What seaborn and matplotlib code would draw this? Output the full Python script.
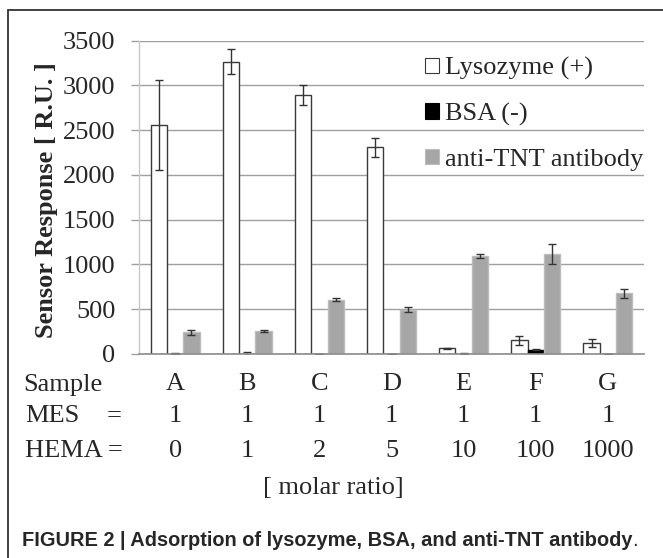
import numpy as np
import pandas as pd
import matplotlib
matplotlib.use("Agg")
import matplotlib.pyplot as plt
import matplotlib.transforms as mtransforms
from matplotlib.patches import Patch, Rectangle
import seaborn as sns

# valores
samples = ["A", "B", "C", "D", "E", "F", "G"]
mes_ratio = ["1", "1", "1", "1", "1", "1", "1"]
hema_ratio = ["0", "1", "2", "5", "10", "100", "1000"]

lysozyme = [2560, 3265, 2895, 2308, 64, 153, 124]
lysozyme_err = [500, 140, 110, 102, 8, 47, 41]
bsa = [5, 5, 2, 2, 5, 48, 2]
bsa_err = [3, 15, 2, 2, 3, 4, 2]
anti_tnt = [243, 254, 607, 497, 1093, 1119, 681]
anti_tnt_err = [27, 12, 14, 24, 22, 108, 50]

series_names = ["Lysozyme (+)", "BSA (-)", "anti-TNT antibody"]
face_colors = ["white", "black", "#a6a6a6"]
edge_colors = ["#3a3a3a", "black", "#bdbdbd"]

SERIF = ["Liberation Serif", "DejaVu Serif"]
SANS = ["Liberation Sans Narrow", "Liberation Sans", "DejaVu Sans"]
FS = 19


def build_frame():
    rows = []
    for name, vals in zip(series_names, [lysozyme, bsa, anti_tnt]):
        for s, v in zip(samples, vals):
            rows.append({"Sample": s, "Protein": name, "Response": v})
    return pd.DataFrame(rows)


def main():
    sns.set_style("white")
    plt.rcParams["font.family"] = SERIF

    df = build_frame()
    W, H = 663, 558
    fig = plt.figure(figsize=(W / 100, H / 100), dpi=100)
    ax = fig.add_axes([139 / W, 1 - 354 / H, (644 - 139) / W, (354 - 40.7) / H])

    sns.barplot(
        data=df, x="Sample", y="Response", hue="Protein",
        order=samples, hue_order=series_names,
        palette=dict(zip(series_names, face_colors)),
        width=0.68, errorbar=None, saturation=1, legend=False, ax=ax,
    )

    # bordas e barras de erro
    errs = [lysozyme_err, bsa_err, anti_tnt_err]
    vals = [lysozyme, bsa, anti_tnt]
    bar_containers = list(ax.containers)
    for k, cont in enumerate(bar_containers):
        for bar in cont:
            bar.set_edgecolor(edge_colors[k])
            bar.set_linewidth(1.0)
            bar.set_zorder(3)
        xs = [b.get_x() + b.get_width() / 2 for b in cont]
        ax.errorbar(xs, vals[k], yerr=errs[k], fmt="none", ecolor="#333333",
                    elinewidth=1.0, capsize=2.8, capthick=1.0, zorder=4)

    ax.set_ylim(0, 3500)
    ax.set_xlim(-0.5, len(samples) - 0.5)
    ax.set_yticks(np.arange(0, 3501, 500))
    ax.yaxis.grid(True, color="#a0a0a0", linewidth=1.0)
    ax.set_axisbelow(True)
    for side in ["top", "right"]:
        ax.spines[side].set_visible(False)
    ax.spines["bottom"].set_color("#8c8c8c")
    ax.spines["bottom"].set_linewidth(1.2)
    ax.spines["bottom"].set_zorder(5)
    ax.spines["left"].set_color("#c8c8c8")
    ax.spines["left"].set_linewidth(1.0)

    ax.tick_params(axis="y", length=6, width=1.0, color="#a0a0a0", pad=11,
                   labelsize=FS, left=True)
    ax.tick_params(axis="x", length=0, pad=14, labelsize=FS)
    for lab in ax.get_yticklabels() + ax.get_xticklabels():
        lab.set_fontfamily(SERIF)

    ax.set_xlabel("")
    ax.set_ylabel("Sensor Response [ R.U. ]", fontsize=FS, fontweight="bold",
                  family=SERIF)
    ax.yaxis.set_label_coords(-0.16, 0.49)

    # legenda
    handles = [Patch(facecolor=f, edgecolor=e, linewidth=0.8)
               for f, e in zip(face_colors, edge_colors)]
    ax.legend(handles, series_names, loc="upper left",
              bbox_to_anchor=(425 / W, 1 - 57 / H), bbox_transform=fig.transFigure,
              frameon=False, handlelength=0.52, handleheight=0.52,
              handletextpad=0.25, labelspacing=0.86, borderpad=0, borderaxespad=0,
              prop={"family": SERIF, "size": FS})

    # linhas de texto abaixo do eixo
    trans = mtransforms.blended_transform_factory(ax.transData, fig.transFigure)
    fy = lambda py: 1 - py / H
    fx = lambda px: px / W
    fig.text(fx(23), fy(391), "Sample", fontsize=FS, va="baseline", ha="left")
    fig.text(fx(25), fy(422), "MES", fontsize=FS, va="baseline", ha="left")
    fig.text(fx(114), fy(422), "=", fontsize=FS, va="baseline", ha="center")
    fig.text(fx(25), fy(457), "HEMA =", fontsize=FS, va="baseline", ha="left")
    for i in range(len(samples)):
        ax.text(i, fy(422), mes_ratio[i], transform=trans, fontsize=FS,
                va="baseline", ha="center")
        ax.text(i, fy(457), hema_ratio[i], transform=trans, fontsize=FS,
                va="baseline", ha="center")
    fig.text(fx(333), fy(494), "[ molar ratio]", fontsize=FS, va="baseline",
             ha="center")

    cap = fig.text(fx(22), fy(546), "FIGURE 2 | Adsorption of lysozyme, BSA, and anti-TNT antibody",
                   fontsize=14.4, fontweight="bold", va="baseline", ha="left",
                   family=SANS)
    fig.canvas.draw()
    bb = cap.get_window_extent()
    fig.text(bb.x1 / W, fy(546), ".", fontsize=14.4, va="baseline", ha="left",
             family=SANS)

    # moldura externa
    fig.patches.append(Rectangle((8 / W, -0.1), 1.2, 1 - 10 / H + 0.1,
                                 transform=fig.transFigure, fill=False,
                                 edgecolor="#333333", linewidth=1.3))

    fig.savefig("out.png", dpi=100)
    plt.close(fig)


if __name__ == "__main__":
    main()
